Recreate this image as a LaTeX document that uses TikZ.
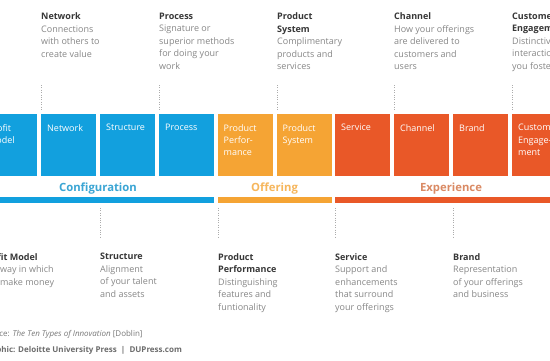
\documentclass[tikz,border=0pt]{standalone}
\usepackage{fontspec}
\setmainfont{Open Sans}
\definecolor{cblue}{RGB}{18,160,222}
\definecolor{corange}{RGB}{245,164,52}
\definecolor{cred}{RGB}{233,88,40}
\definecolor{tblue}{RGB}{58,165,212}
\definecolor{torange}{RGB}{246,182,92}
\definecolor{tred}{RGB}{218,138,100}
\definecolor{hdc}{RGB}{55,55,55}
\definecolor{dsc}{RGB}{135,135,135}
\definecolor{ftc}{RGB}{120,120,120}
\newcommand\mkhd[1]{\textbf{\textcolor{hdc}{#1}}}
\begin{document}
\begin{tikzpicture}[x=1pt,y=-1pt]
\tikzset{
 box/.style={minimum width=55pt, minimum height=62pt, inner sep=0pt, anchor=north west, draw=none},
 boxB/.style={box, fill=cblue},
 boxO/.style={box, fill=corange},
 boxR/.style={box, fill=cred},
 btxt/.style={anchor=north west, inner sep=0pt, align=left, text=white, font=\fontsize{9}{12.3}\selectfont},
 info/.style={anchor=north west, inner sep=0pt, align=left, text=dsc, font=\fontsize{9}{12.5}\selectfont},
 cat/.style={font=\fontsize{11.3}{14}\selectfont\bfseries, inner sep=0pt, anchor=base},
 bar/.style={minimum height=5.5pt, inner sep=0pt, anchor=north west, draw=none},
 dotl/.style={draw=gray!65, line width=0.9pt, dash pattern=on 0.9pt off 1.5pt},
 foot/.style={anchor=base west, inner sep=0pt, text=ftc, font=\fontsize{8}{9.5}\selectfont}
}
\useasboundingbox (0,0) rectangle (550,360);
\clip (0,0) rectangle (550,360);
\fill[white] (0,0) rectangle (550,360);

% boxes
\node[boxB] (pm)  at (-18,114) {};
\node[boxB] (net) at (41,114) {};
\node[boxB] (str) at (100,114) {};
\node[boxB] (pro) at (159,114) {};
\node[boxO] (pp)  at (217.5,114) {};
\node[boxO] (ps)  at (276.5,114) {};
\node[boxR] (ser) at (335,114) {};
\node[boxR] (cha) at (394,114) {};
\node[boxR] (bra) at (453,114) {};
\node[boxR] (ce)  at (512,114) {};

% box texts
\node[btxt] at (-12,124) {Profit\\Model};
\node[btxt] at (47,124) {Network};
\node[btxt] at (106,124) {Structure};
\node[btxt] at (165,124) {Process};
\node[btxt] at (223.5,124) {Product\\Perfor-\\mance};
\node[btxt] at (282.5,124) {Product\\System};
\node[btxt] at (341,124) {Service};
\node[btxt] at (400,124) {Channel};
\node[btxt] at (459,124) {Brand};
\node[btxt] at (518,124) {Customer\\Engage-\\ment};

% category labels
\node[cat, text=tblue]   (conf) at (98,191.5) {Configuration};
\node[cat, text=torange] (off)  at (274.5,191.5) {Offering};
\node[cat, text=tred]    (exp)  at (451,191.5) {Experience};

% bars
\node[bar, fill=cblue,   minimum width=232pt] (bb) at (-18,197) {};
\node[bar, fill=corange, minimum width=114pt] (ob) at (217.5,197) {};
\node[bar, fill=cred,    minimum width=232pt] (rb) at (335,197) {};

% top descriptions
\node[info] (tnet) at (41,12.5) {\mkhd{Network}\\Connections\\with others to\\create value};
\node[info] (tpro) at (159,12.5) {\mkhd{Process}\\Signature or\\superior methods\\for doing your\\work};
\node[info] (tps)  at (277,12.5) {\mkhd{Product}\\\mkhd{System}\\Complimentary\\products and\\services};
\node[info] (tcha) at (394,12.5) {\mkhd{Channel}\\How your offerings\\are delivered to\\customers and\\users};
\node[info] (tce)  at (512,12.5) {\mkhd{Customer}\\\mkhd{Engagement}\\Distinctive\\interactions\\you foster};

% bottom descriptions
\node[info] (bpm)  at (-18,253) {\mkhd{Profit Model}\\The way in which\\you make money};
\node[info] (bstr) at (100,253) {\mkhd{Structure}\\Alignment\\of your talent\\and assets};
\node[info] (bpp)  at (218,253) {\mkhd{Product}\\\mkhd{Performance}\\Distinguishing\\features and\\funtionality};
\node[info] (bser) at (335,253) {\mkhd{Service}\\Support and\\enhancements\\that surround\\your offerings};
\node[info] (bbra) at (453,253) {\mkhd{Brand}\\Representation\\of your offerings\\and business};

% dotted connectors (top)
\coordinate (c1) at (41.5,85);
\coordinate (c2) at (159.5,85);
\coordinate (c3) at (277.5,85);
\coordinate (c4) at (394.5,85);
\coordinate (c5) at (512.5,85);
\draw[dotl] (c1) -- ([xshift=0.5pt,yshift=4pt]net.north west);
\draw[dotl] (c2) -- ([xshift=0.5pt,yshift=4pt]pro.north west);
\draw[dotl] (c3) -- ([xshift=1pt,yshift=4pt]ps.north west);
\draw[dotl] (c4) -- ([xshift=0.5pt,yshift=4pt]cha.north west);
\draw[dotl] (c5) -- ([xshift=0.5pt,yshift=4pt]ce.north west);

% dotted connectors (bottom)
\coordinate (d2) at (100.5,237);
\coordinate (d3) at (218,237);
\coordinate (d4) at (335.5,237);
\coordinate (d5) at (453.5,237);
\draw[dotl] ([yshift=-5pt]bb.south -| d2) -- (d2);
\draw[dotl] ([yshift=-5pt]ob.south -| d3) -- (d3);
\draw[dotl] ([yshift=-5pt]rb.south -| d4) -- (d4);
\draw[dotl] ([yshift=-5pt]rb.south -| d5) -- (d5);

% footer
\node[foot] (src) at (-18,336.5) {Source: \textit{The Ten Types of Innovation} [Doblin]};
\node[foot, text=gray!85!black] (gra) at (-18,352) {\textbf{Graphic: Deloitte University Press \ | \ DUPress.com}};
\end{tikzpicture}
\end{document}
